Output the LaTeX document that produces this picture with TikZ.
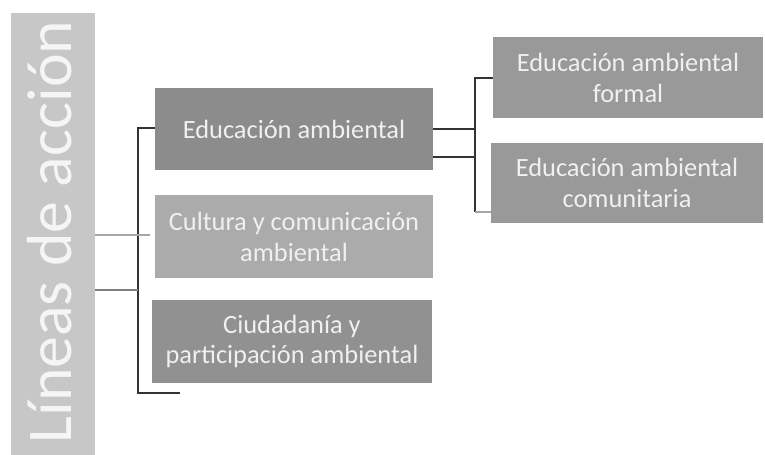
\documentclass[tikz,border=0pt]{standalone}
\usepackage{fontspec}
\setmainfont{Carlito}
\begin{document}
\begin{tikzpicture}[x=1bp,y=-1bp,
  box/.style={rectangle,inner sep=0pt,align=center,text=white!88!gray,
    font=\fontsize{26.5}{31}\selectfont},
  link/.style={draw=black!80,line width=1.2bp},
  faint/.style={draw=black!35,line width=1.2bp}]
\useasboundingbox[fill=white] (0,0) rectangle (765,455);
\node[box,fill=black!22,minimum width=84bp,minimum height=442bp] (bar) at (53,234) {};
\node[rotate=90,text=white!92!gray,font=\fontsize{64}{64}\selectfont] (bartext) at (50,232) {Líneas de acción};
\node[box,fill=black!45,minimum width=278bp,minimum height=82bp] (edu) at (294,129) {Educación ambiental};
\node[box,fill=black!33,minimum width=278bp,minimum height=83bp] (cult) at (294,236.5) {Cultura y comunicación\\ambiental};
\node[box,fill=black!43,minimum width=280bp,minimum height=83bp] (ciud) at (292,341.5) {Ciudadanía y\\participación ambiental};
\node[box,fill=black!40,minimum width=270bp,minimum height=81bp] (formal) at (628,77.5) {Educación ambiental\\formal};
\node[box,fill=black!40,minimum width=272bp,minimum height=80bp] (comun) at (627,183) {Educación ambiental\\comunitaria};
% left bracket
\coordinate (lt) at (138,128);
\coordinate (lb) at (138,393);
\coordinate (lbend) at (180,393);
\coordinate (lm1) at (150,235);
\coordinate (lm2) at (138,290);
\draw[link] (edu.west |- lt) -- (lt) -- (lb) -- (lbend);
\draw[faint] (bar.east |- lm1) -- (lm1);
\draw[draw=black!50,line width=1.5bp] (bar.east |- lm2) -- (lm2);
% right bracket
\coordinate (rt) at (475,78);
\coordinate (rb) at (475,212);
\coordinate (r1) at (475,129);
\coordinate (r2) at (475,157);
\draw[link] (formal.west |- rt) -- (rt) -- (rb);
\draw[faint] (rb) -- (comun.west |- rb);
\draw[link] (edu.east |- r1) -- (r1);
\draw[link] (edu.east |- r2) -- (r2);
\end{tikzpicture}
\end{document}
